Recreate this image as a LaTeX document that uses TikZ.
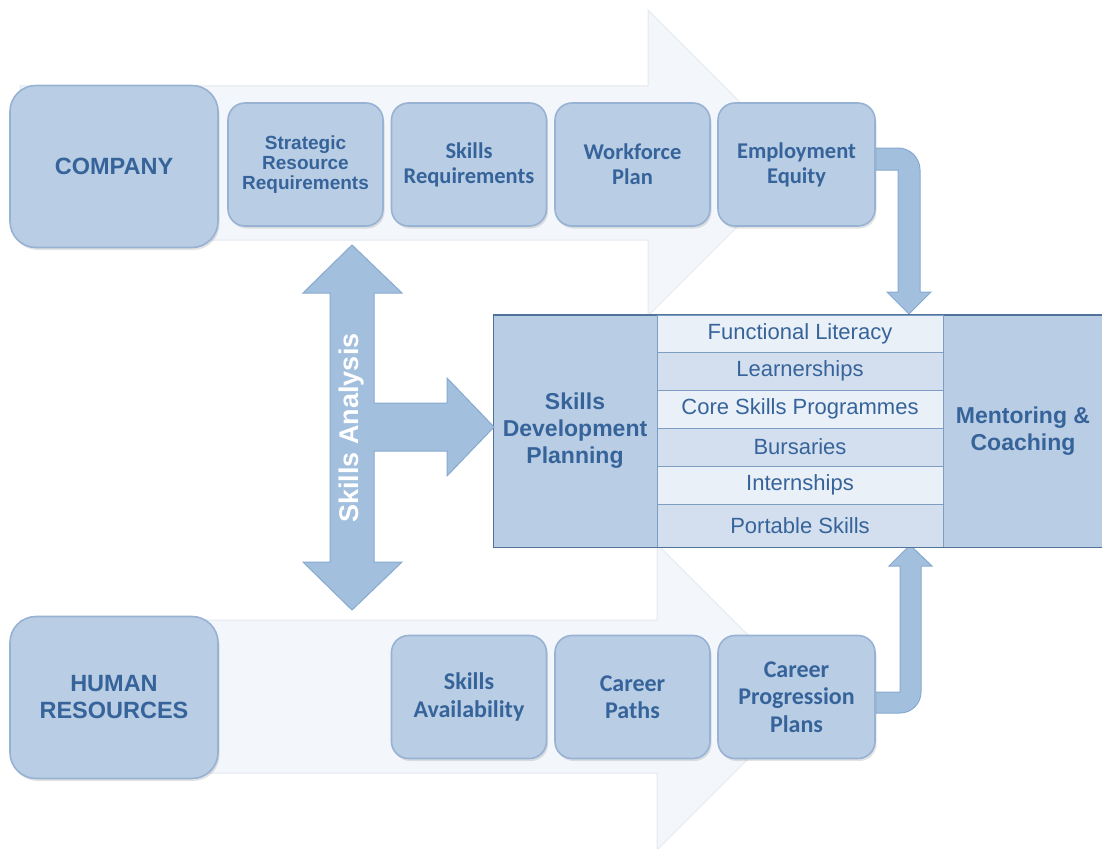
\documentclass[tikz,border=0pt]{standalone}
\usepackage{fontspec}
\setmainfont{Liberation Sans}
\newfontfamily\calibri{Carlito}
\usetikzlibrary{shadows}
\definecolor{bgarrow}{HTML}{F3F6FA}
\definecolor{bgedge}{HTML}{E3E9F1}
\definecolor{boxfill}{HTML}{B9CDE4}
\definecolor{boxedge}{HTML}{97B2D3}
\definecolor{txt}{HTML}{36649A}
\definecolor{arrowfill}{HTML}{A3BFDE}
\definecolor{arrowedge}{HTML}{87A9CF}
\definecolor{tabcol}{HTML}{B9CDE4}
\definecolor{tabedge}{HTML}{51739B}
\definecolor{rowedge}{HTML}{7E9DC2}
\definecolor{rowlight}{HTML}{EAF0F7}
\definecolor{rowdark}{HTML}{D3DFEE}
\tikzset{
  bgarrowshape/.style={fill=bgarrow, draw=bgedge, line width=1pt},
  procbox/.style={draw=boxedge, line width=1.6pt, fill=boxfill, rounded corners=17pt,
    minimum width=155pt, minimum height=123pt, align=center, text=txt, inner sep=0pt,
    drop shadow={opacity=0.22, shadow xshift=1.5pt, shadow yshift=-2.5pt}},
  bigbox/.style={procbox, rounded corners=26pt, minimum width=208pt, minimum height=162pt,
    font=\bfseries\fontsize{23.5}{27}\selectfont},
  arialbox/.style={font=\bfseries\fontsize{19}{20}\selectfont},
  calbox/.style={font=\calibri\bfseries\fontsize{22.5}{25}\selectfont},
  calboxlow/.style={font=\calibri\bfseries\fontsize{24}{27.5}\selectfont},
  tabside/.style={draw=tabedge, line width=1pt, fill=tabcol, minimum height=232pt,
    align=center, text=txt, inner sep=0pt, font=\bfseries\fontsize{23}{27}\selectfont},
  tabrow/.style={draw=rowedge, line width=1pt, minimum width=286pt, inner sep=0pt,
    text=txt, font=\fontsize{22}{24}\selectfont},
  blockarrow/.style={fill=arrowfill, draw=arrowedge, line width=1pt},
}
\begin{document}
\begin{tikzpicture}[x=1pt,y=-1pt]
\useasboundingbox (0,0) rectangle (1102,848);
% background arrows
\path[bgarrowshape] (20,86) -- (648,86) -- (648,10) -- (801,163) -- (648,316) -- (648,240) -- (20,240) -- cycle;
\path[bgarrowshape] (20,620) -- (657,620) -- (657,544) -- (810,697) -- (657,850) -- (657,773) -- (20,773) -- cycle;
% bent arrows (behind the boxes)
\path[blockarrow] (866,148) -- (898,148) arc[start angle=-90, end angle=0, radius=22] -- (920,292)
  -- (931,292) -- (909,314) -- (887,292) -- (898,292) -- (898,170) -- (866,170) -- cycle;
\path[blockarrow] (866,692) -- (900,692) -- (900,566) -- (889,566) -- (910,545) -- (932,566)
  -- (921,566) -- (921,692) arc[start angle=0, end angle=90, radius=21] -- (866,713) -- cycle;
% top boxes
\node[bigbox] (company) at (114,166.5) {COMPANY};
\node[procbox,arialbox] (srr) at (305.5,164.5) {Strategic\\Resource\\Requirements};
\node[procbox,calbox] (sreq) at (469,164.5) {Skills\\Requirements};
\node[procbox,calbox] (wp) at (632.5,164.5) {Workforce\\Plan};
\node[procbox,calbox,minimum width=157pt] (ee) at (796.5,164.5) {Employment\\Equity};
% bottom boxes
\node[bigbox] (hr) at (114,697.5) {HUMAN\\RESOURCES};
\node[procbox,calboxlow] (sa) at (469,697) {Skills\\Availability};
\node[procbox,calboxlow] (cp) at (632.5,697) {Career\\Paths};
\node[procbox,calboxlow,minimum width=157pt] (cpp) at (796.5,697) {Career\\Progression\\Plans};
% table
\node[tabside,minimum width=164pt] (sdp) at (575,431) {Skills\\Development\\Planning};
\node[tabside,minimum width=160pt] (mc) at (1023,431) {Mentoring \&\\Coaching};
\node[tabrow,fill=rowlight,minimum height=37pt] (r1) at (800,333.5) {Functional Literacy};
\node[tabrow,fill=rowdark,minimum height=38pt] (r2) at (800,371) {Learnerships};
\node[tabrow,fill=rowlight,minimum height=38pt] (r3) at (800,409) {Core Skills Programmes};
\node[tabrow,fill=rowdark,minimum height=38pt] (r4) at (800,447) {Bursaries};
\node[tabrow,fill=rowlight,minimum height=38pt] (r5) at (800,485) {Internships};
\node[tabrow,fill=rowdark,minimum height=43pt] (r6) at (800,525.5) {Portable Skills};
\draw[tabedge,line width=1pt] (sdp.north west) -- (mc.north east) (sdp.south west) -- (mc.south east);
% skills analysis double arrow
\path[blockarrow] (352,245) -- (402,293) -- (374,293) -- (374,403) -- (447,403) -- (447,378) -- (494,427)
  -- (447,476) -- (447,451) -- (374,451) -- (374,562) -- (402,562) -- (352,610) -- (303,562)
  -- (330,562) -- (330,293) -- (303,293) -- cycle;
\node[rotate=90, text=white, font=\bfseries\fontsize{27}{30}\selectfont] (sk) at (352,428) {Skills Analysis};
\end{tikzpicture}
\end{document}
